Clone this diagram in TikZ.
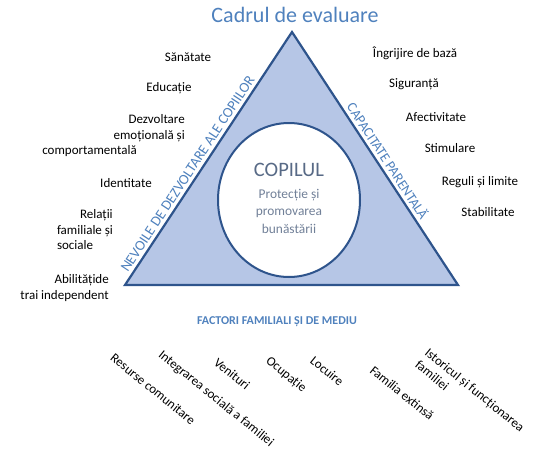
\documentclass[tikz,border=0pt]{standalone}
\usepackage{fontspec}
\setmainfont{Carlito}
\usepackage{tikz}
\definecolor{titleblue}{RGB}{79,129,189}
\definecolor{edgeblue}{RGB}{46,84,140}
\definecolor{fillblue}{RGB}{182,198,230}
\definecolor{childgray}{RGB}{88,106,134}

\begin{document}
\begin{tikzpicture}[x=1pt,y=-1pt,
    item/.style={font=\fontsize{13}{15.5}\selectfont, align=center, inner sep=1pt},
    sidelabel/.style={font=\fontsize{14.5}{16}\selectfont, text=titleblue, sloped, inner sep=1pt, above=3pt},
    factor/.style={item, align=left, rotate=-39}]
    \useasboundingbox (0,0) rectangle (542,456);

    \node[font=\fontsize{22}{24}\selectfont, text=titleblue] (title) at (295,15) {Cadrul de evaluare};

    % triangle and the child in the middle
    \coordinate (apex) at (292,32);
    \coordinate (left) at (125,285);
    \coordinate (right) at (458,285);
    \draw[edgeblue, line width=2.2pt, fill=fillblue] (left) -- (apex) -- (right) -- cycle;
    \draw[edgeblue, line width=2pt, fill=white] (289,200) ellipse [x radius=71, y radius=77];

    \path (left) -- (apex) node[sidelabel, pos=0.42] (needs) {NEVOILE DE DEZVOLTARE ALE COPIILOR};
    \path (apex) -- (right) node[sidelabel, pos=0.53, font=\fontsize{14}{16}\selectfont] (parenting) {CAPACITATE PARENTAL\u{A}};

    \node[font=\fontsize{20.5}{22}\selectfont, text=childgray] (child) at (289,170) {COPILUL};
    \node[font=\fontsize{13.4}{17.5}\selectfont, text=childgray!85, align=center] (welfare) at (289,211)
        {Protecție și\\promovarea\\bunăstării};

    \node[font=\bfseries\fontsize{12}{14}\selectfont, text=titleblue] (environment) at (277,322)
        {FACTORI FAMILIALI ȘI DE MEDIU};

    % needs of the child
    \node[item] (health) at (188,57) {Sănătate};
    \node[item] (education) at (169,88) {Educație};
    \node[item, align=right, anchor=east] (emotional) at (186,136)
        {Dezvoltare\\emoțională și\hspace*{31pt}\\comportamentală\hspace*{48pt}};
    \node[item] (identity) at (126,183) {Identitate};
    \node[item, align=left] (relations) at (85,230) {\hspace*{23pt}Relații\\familiale și\\sociale};
    \node[item, align=right, anchor=east] (selfcare) at (110,288) {Abilitățide\\trai independent};

    % parenting capacity
    \node[item] (basiccare) at (415,53) {Îngrijire de bază};
    \node[item] (safety) at (414,84) {Siguranță};
    \node[item] (warmth) at (436,117) {Afectivitate};
    \node[item] (stimulation) at (450,148) {Stimulare};
    \node[item] (guidance) at (480,182) {Reguli și limite};
    \node[item] (stability) at (488,212) {Stabilitate};

    % family and environmental factors
    \node[factor] (community) at (153,389) {Resurse comunitare};
    \node[factor] (integration) at (216,399) {Integrarea socială a familiei};
    \node[factor] (income) at (232,374) {Venituri};
    \node[factor] (employment) at (286,375) {Ocupație};
    \node[factor] (housing) at (327,371) {Locuire};
    \node[factor] (extfamily) at (402,393) {Familia extinsă};
    \node[factor] (history) at (470,396) {Istoricul și funcționarea\\familiei};
\end{tikzpicture}
\end{document}
